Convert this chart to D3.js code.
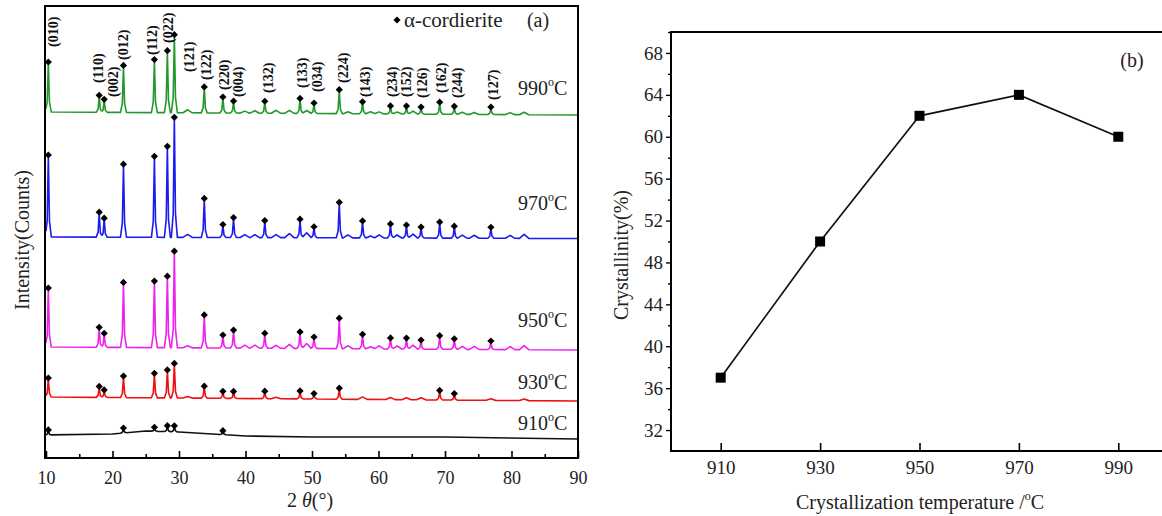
<!DOCTYPE html>
<html>
<head>
<meta charset="utf-8">
<script src="https://cdn.jsdelivr.net/npm/d3@7"></script>
<style>
  body { margin: 0; background: #fff; }
  svg { font-family: "Liberation Serif", "Times New Roman", serif; }
</style>
</head>
<body>
<script>
// ---- panel (a) data: XRD patterns (intensity in arbitrary counts) ----
const peakPos = [10.35, 18.0, 18.75, 21.65, 26.3, 28.25, 29.3, 33.8, 36.6, 38.2, 42.9,
                 48.2, 50.3, 54.1, 57.6, 61.8, 64.2, 66.4, 69.2, 71.4, 76.9];
const minorPos = [31.3, 39.9, 41.4, 44.6, 46.6, 49.2, 55.4, 58.8, 60.1, 62.8, 65.2, 72.6, 74.4, 79.8, 81.9];

const temps = ["910", "930", "950", "970", "990"];
const colors = ["#111111", "#ee1111", "#ee22ee", "#1c1cf0", "#22992a"];

const base910 = [[10, 23], [20, 24], [25, 27], [30, 26], [35, 24], [40, 22], [50, 21], [70, 21], [90, 19]];
const base930 = [[10, 61], [90, 57]];
const base950 = [[10, 111], [90, 108]];
const base970 = [[10, 221], [90, 219.5]];
const base990 = [[10, 346], [90, 343]];

const peaks910 = [4, 0, 0, 4, 3, 5, 5, 0, 3, 0, 0, 0, 0, 0, 0, 0, 0, 0, 0, 0, 0];
const peaks930 = [18, 10, 6.5, 20.5, 23.5, 27, 33.5, 11, 6, 6, 6.5, 7, 4.5, 10, 0, 0, 0, 0, 8.5, 5.5, 0];
const peaks950 = [58, 19, 13, 64, 65.5, 70.5, 95.5, 32, 12, 17, 14, 15.5, 10.5, 29.5, 13.5, 10, 10, 8, 12.5, 9.5, 7.5];
const peaks970 = [81, 24, 18, 72, 80, 90, 119, 38, 12, 19, 16, 17.5, 10, 34.5, 16, 13, 12, 10, 15, 11, 10];
const peaks990 = [49, 16, 12, 46, 52, 61, 77, 25, 15, 11, 11, 14, 9.5, 23, 11, 7, 7, 6, 11, 7, 6.5];

const minorPos930 = [31.3, 44.6, 57.6, 61.8, 64.2, 66.4, 76.9, 81.9];
const minor930 = [1.5, 1.5, 2.5, 2, 2, 2, 1.5, 1.5];
const minor950 = [2, 3, 3, 3, 4, 5, 3, 2, 3, 3, 4, 3, 3, 3, 4];
const minor970 = [3, 3, 3, 3, 4, 5, 3, 2, 3, 3, 4, 3, 3, 3, 4];
const minor990 = [3, 2, 2.5, 3, 3, 3, 2, 2, 2, 2, 3, 2, 2, 2, 2.5];

// hkl labels above the 990 pattern: [text, 2theta, intensity level]
const hklNames = ["(010)", "(110)", "(002)", "(012)", "(112)", "(022)", "(121)", "(122)", "(220)", "(004)", "(132)",
                  "(133)", "(034)", "(224)", "(143)", "(234)", "(152)", "(126)", "(162)", "(244)", "(127)"];
const hklPos = [11.05, 17.8, 20.1, 21.6, 25.9, 28.35, 31.5, 34.05, 36.8, 38.9, 43.4,
                48.5, 50.75, 54.65, 58.0, 62.0, 64.1, 66.5, 69.4, 71.8, 77.2];
const hklLevel = [411, 375, 361, 398, 403, 415, 386, 378, 368, 361, 365,
                  370, 366, 375, 361, 361, 361, 360, 365, 360, 358];
const tempLabelLevel = [35, 76, 138, 255, 370];

const xTicksA = [10, 20, 30, 40, 50, 60, 70, 80, 90];

// ---- panel (b) data ----
const bTemps = [910, 930, 950, 970, 990];
const crystallinity = [37, 50, 62, 64, 60];

const W = 1162, H = 516;
const svg = d3.select("body").append("svg").attr("width", W).attr("height", H);

// ================= panel (a) =================
const xA = d3.scaleLinear().domain([10, 90]).range([46, 578]);
const yA = d3.scaleLinear().domain([0, 452]).range([458, 6]);

const gA = svg.append("g");

function buildSeries(base, peaks, mPos, mH) {
  const shapes = [];
  peaks.forEach((h, i) => {
    if (h > 0) shapes.push({ p: peakPos[i], h, off: [[-0.45, 0], [-0.17, 0.2], [0, 1], [0.17, 0.2], [0.45, 0]] });
  });
  (mH || []).forEach((h, i) => {
    if (h > 0) shapes.push({ p: mPos[i], h, off: [[-0.7, 0], [0, 1], [0.7, 0]] });
  });
  const baseFn = d3.scaleLinear().domain(base.map(d => d[0])).range(base.map(d => d[1]));
  let xs = [10, 90].concat(base.map(d => d[0]));
  shapes.forEach(s => s.off.forEach(o => xs.push(s.p + o[0])));
  xs = Array.from(new Set(xs.filter(v => v >= 10 && v <= 90))).sort((a, b) => a - b);
  const shapeVal = (s, x) => {
    const f = d3.scaleLinear().domain(s.off.map(o => s.p + o[0])).range(s.off.map(o => o[1])).clamp(true);
    return s.h * f(x);
  };
  return xs.map(x => [x, baseFn(x) + d3.sum(shapes, s => shapeVal(s, x))]);
}

const series = [
  { base: base910, peaks: peaks910, mPos: [], mH: [] },
  { base: base930, peaks: peaks930, mPos: minorPos930, mH: minor930 },
  { base: base950, peaks: peaks950, mPos: minorPos, mH: minor950 },
  { base: base970, peaks: peaks970, mPos: minorPos, mH: minor970 },
  { base: base990, peaks: peaks990, mPos: minorPos, mH: minor990 }
];

const lineA = d3.line().x(d => xA(d[0])).y(d => yA(d[1]));

series.forEach((s, k) => {
  const pts = buildSeries(s.base, s.peaks, s.mPos, s.mH);
  gA.append("path")
    .attr("d", lineA(pts))
    .attr("fill", "none")
    .attr("stroke", colors[k])
    .attr("stroke-width", 1.6)
    .attr("stroke-linejoin", "round");

  const baseFn = d3.scaleLinear().domain(s.base.map(d => d[0])).range(s.base.map(d => d[1]));
  const marks = s.peaks.map((h, i) => ({ p: peakPos[i], v: baseFn(peakPos[i]) + h, h })).filter(d => d.h > 0);
  gA.selectAll(null)
    .data(marks)
    .join("path")
    .attr("d", d3.symbol(d3.symbolSquare, 26))
    .attr("transform", d => `translate(${xA(d.p)},${yA(d.v) - 1}) rotate(45)`)
    .attr("fill", "#000");

  const t = gA.append("text")
    .attr("x", 518)
    .attr("y", yA(tempLabelLevel[k]) + 7)
    .attr("font-size", 20)
    .attr("fill", "#222");
  t.append("tspan").text(temps[k]);
  t.append("tspan").text("o").attr("font-size", 12).attr("dy", -9);
  t.append("tspan").text("C").attr("dy", 9);
});

// hkl labels
gA.selectAll(null)
  .data(hklNames)
  .join("text")
  .attr("transform", (d, i) => `translate(${xA(hklPos[i])},${yA(hklLevel[i])}) rotate(-90)`)
  .attr("dy", "0.35em")
  .attr("font-size", 14)
  .attr("font-weight", "bold")
  .attr("fill", "#111")
  .text(d => d);

// axes (a)
const axA = gA.append("g").attr("transform", "translate(0,458)")
  .call(d3.axisBottom(xA).tickValues(xTicksA).tickSizeInner(-7).tickSizeOuter(0).tickPadding(13).tickFormat(d3.format("d")));
axA.select(".domain").remove();
axA.selectAll("line").attr("stroke", "#000").attr("stroke-width", 1.6);
axA.selectAll("text").attr("font-size", 18).attr("fill", "#222").attr("font-family", "Liberation Serif");

const axAm = gA.append("g").attr("transform", "translate(0,458)")
  .call(d3.axisBottom(xA).tickValues(d3.range(15, 90, 10)).tickSizeInner(-4).tickSizeOuter(0).tickFormat(""));
axAm.select(".domain").remove();
axAm.selectAll("line").attr("stroke", "#000").attr("stroke-width", 1.6);

gA.append("rect")
  .attr("x", 45).attr("y", 6).attr("width", 533).attr("height", 452)
  .attr("fill", "none").attr("stroke", "#000").attr("stroke-width", 2);

// legend
gA.append("path")
  .attr("d", d3.symbol(d3.symbolSquare, 26))
  .attr("transform", "translate(397,20) rotate(45)")
  .attr("fill", "#000");
gA.append("text").attr("x", 404).attr("y", 27).attr("font-size", 21).attr("fill", "#222").text("α-cordierite");
gA.append("text").attr("x", 538).attr("y", 27).attr("font-size", 20).attr("text-anchor", "middle").attr("fill", "#222").text("(a)");

// axis titles (a)
gA.append("text")
  .attr("transform", "translate(29,240) rotate(-90)")
  .attr("text-anchor", "middle").attr("font-size", 20).attr("fill", "#222")
  .text("Intensity(Counts)");
const tA = gA.append("text").attr("x", 310).attr("y", 507).attr("text-anchor", "middle").attr("font-size", 20).attr("fill", "#222");
tA.append("tspan").text("2 ");
tA.append("tspan").text("θ").attr("font-style", "italic");
tA.append("tspan").text("(°)");

// ================= panel (b) =================
const xB = d3.scaleLinear().domain([900, 1000]).range([671, 1168]);
const yB = d3.scaleLinear().domain([30, 70]).range([451, 32]);
const gB = svg.append("g");

const axBx = gB.append("g").attr("transform", "translate(0,451)")
  .call(d3.axisBottom(xB).tickValues(bTemps).tickSizeInner(-8).tickSizeOuter(0).tickPadding(10));
axBx.select(".domain").remove();
axBx.selectAll("line").attr("stroke", "#000").attr("stroke-width", 1.6);
axBx.selectAll("text").attr("font-size", 19).attr("fill", "#222").attr("font-family", "Liberation Serif");

const axBy = gB.append("g").attr("transform", "translate(671,0)")
  .call(d3.axisLeft(yB).tickValues(d3.range(32, 69, 4)).tickSizeInner(5).tickSizeOuter(0).tickPadding(3));
axBy.select(".domain").remove();
axBy.selectAll("line").attr("stroke", "#000").attr("stroke-width", 1.4);
axBy.selectAll("text").attr("font-size", 19).attr("fill", "#222").attr("font-family", "Liberation Serif");

const axBym = gB.append("g").attr("transform", "translate(671,0)")
  .call(d3.axisLeft(yB).tickValues(d3.range(34, 71, 4)).tickSizeInner(3).tickSizeOuter(0).tickFormat(""));
axBym.select(".domain").remove();
axBym.selectAll("line").attr("stroke", "#000").attr("stroke-width", 1.4);

gB.append("rect")
  .attr("x", 671).attr("y", 32).attr("width", 497).attr("height", 419)
  .attr("fill", "none").attr("stroke", "#000").attr("stroke-width", 2);

const lineB = d3.line().x((d, i) => xB(bTemps[i])).y(d => yB(d));
gB.append("path")
  .attr("d", lineB(crystallinity))
  .attr("fill", "none").attr("stroke", "#111").attr("stroke-width", 1.7);

gB.selectAll(null)
  .data(crystallinity)
  .join("rect")
  .attr("x", (d, i) => xB(bTemps[i]) - 5)
  .attr("y", d => yB(d) - 5)
  .attr("width", 10).attr("height", 10)
  .attr("fill", "#000");

gB.append("text").attr("x", 1132).attr("y", 67).attr("text-anchor", "middle").attr("font-size", 20).attr("fill", "#222").text("(b)");

gB.append("text")
  .attr("transform", "translate(628,255) rotate(-90)")
  .attr("text-anchor", "middle").attr("font-size", 20).attr("fill", "#222")
  .text("Crystallinity(%)");

const tB = gB.append("text").attr("x", 920).attr("y", 509).attr("text-anchor", "middle").attr("font-size", 20).attr("fill", "#222");
tB.append("tspan").text("Crystallization temperature /");
tB.append("tspan").text("o").attr("font-size", 12).attr("dy", -9);
tB.append("tspan").text("C").attr("dy", 9);
</script>
</body>
</html>
